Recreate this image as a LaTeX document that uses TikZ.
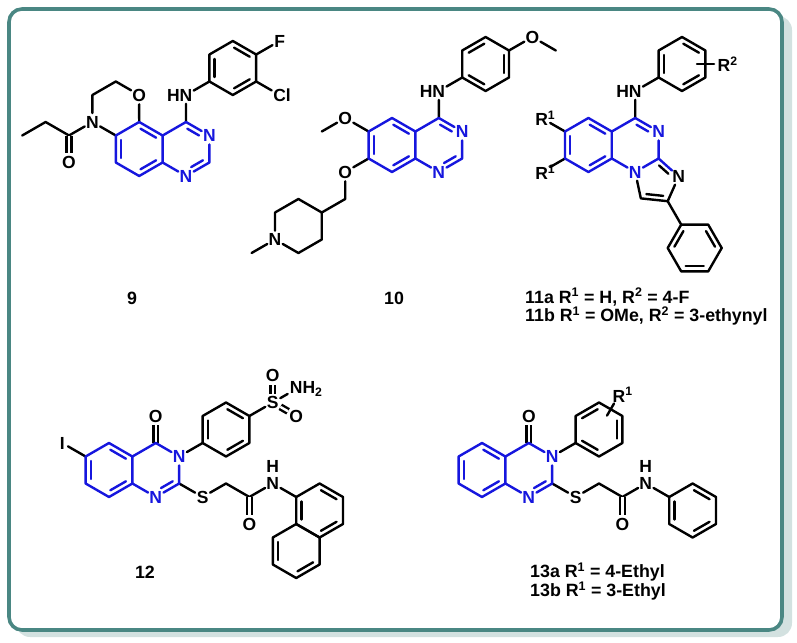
\documentclass[tikz,border=0pt]{standalone}
\usepackage{fontspec}
\setmainfont{Liberation Sans}
\usetikzlibrary{calc}

\definecolor{coreblue}{RGB}{22,22,222}
\definecolor{frameteal}{RGB}{74,135,131}
\definecolor{frameshade}{RGB}{211,225,224}

\tikzset{
  bond/.style={line width=2.4pt, line cap=round, line join=round},
  core/.style={bond, coreblue},
  dbl/.style={bond, double, double distance=2.4pt, line cap=butt},
  atom/.style={circle, inner sep=0pt, font=\fontsize{17.5}{17.5}\selectfont\bfseries},
  cpd/.style={font=\fontsize{17.8}{20}\selectfont\bfseries, inner sep=0pt},
}

% hexagon of side 27: (#1) is the centre, (#1v1)...(#1v6) the corners
\newcommand{\hexring}[3]{%
  \coordinate (#1) at (#2);
  \foreach \i in {1,...,6}
    \coordinate (#1v\i) at ($(#2)+({#3-60*(\i-1)}:27)$);
}
\newcommand{\ringbonds}[2][]{\draw[bond,#1] (#2v1)--(#2v2)--(#2v3)--(#2v4)--(#2v5)--(#2v6)--cycle;}
% inner line of a ring double bond
\newcommand{\inbond}[4][]{\draw[bond,shorten <=1.5pt,shorten >=1.5pt,#1] ($(#2)!0.22!(#4)$) -- ($(#3)!0.22!(#4)$);}

\begin{document}
\begin{tikzpicture}[x=1pt, y=1pt]
  \useasboundingbox (0,0) rectangle (797,-642);

  % frame
  \fill[frameshade, rounded corners=14pt] (16,-16) rectangle (792,-637);
  \draw[frameteal, fill=white, line width=3.6pt, rounded corners=13pt] (9,-9) rectangle (782,-630);

  % ---------- 9 ----------
  \hexring{A9}{139.2,-149}{90}
  \hexring{B9}{186,-149}{90}
  \hexring{C9}{115.8,-108.5}{90}
  \hexring{D9}{232.8,-68}{90}
  \node[atom, coreblue] (n9a) at (B9v2) {N};
  \node[atom, coreblue] (n9b) at (B9v4) {N};
  \node[atom] (o9a) at (C9v2) {O};
  \node[atom] (n9c) at (C9v5) {N};
  \node[atom] (n9d) at (186,-95) {\llap{H}N};
  \node[atom] (f9) at (279.6,-41) {F};
  \node[atom] (cl9) at (279.6,-95) {C\rlap{l}};
  \node[atom] (o9b) at (69,-162.5) {O};
  \coordinate (co9) at (69,-135.5);
  \coordinate (ch9) at (45.6,-122);
  \coordinate (me9) at (22.2,-135.5);

  \draw[bond] (A9v1) -- (o9a) -- (C9v1) -- (C9v6) -- (n9c) -- (A9v6);
  \draw[bond] (n9c) -- (co9) -- (ch9) -- (me9);
  \draw[dbl] (co9) -- (o9b);
  \draw[bond] (B9v1) -- (n9d) -- (D9v5);
  \ringbonds{D9}
  \inbond{D9v1}{D9v2}{D9}
  \inbond{D9v3}{D9v4}{D9}
  \inbond{D9v5}{D9v6}{D9}
  \draw[bond] (D9v2) -- (f9);
  \draw[bond] (D9v3) -- (cl9);
  \ringbonds[coreblue]{A9}
  \draw[core] (B9v6) -- (B9v1) -- (n9a) -- (B9v3) -- (n9b) -- (B9v5);
  \inbond[coreblue]{A9v1}{A9v2}{A9}
  \inbond[coreblue]{A9v3}{A9v4}{A9}
  \inbond[coreblue]{A9v5}{A9v6}{A9}
  \inbond[coreblue, shorten >=6pt]{B9v1}{n9a}{B9}
  \inbond[coreblue, shorten <=6pt]{n9b}{B9v3}{B9}
  \node[cpd] (l9) at (132,-298) {9};

  % ---------- 10 ----------
  \hexring{A10}{392,-145}{90}
  \hexring{B10}{438.8,-145}{90}
  \hexring{D10}{485.6,-64}{90}
  \hexring{P10}{298.4,-226}{90}
  \node[atom, coreblue] (n10a) at (B10v2) {N};
  \node[atom, coreblue] (n10b) at (B10v4) {N};
  \node[atom] (n10c) at (438.8,-91) {\llap{H}N};
  \node[atom] (o10a) at (532.4,-37) {O};
  \node[atom] (o10b) at (345.2,-118) {O};
  \node[atom] (o10c) at (345.2,-172) {O};
  \node[atom] (n10d) at (P10v5) {N};
  \coordinate (me10a) at (555.8,-50.5);
  \coordinate (me10b) at (321.8,-131.5);
  \coordinate (ch10) at (345.2,-199);
  \coordinate (me10c) at (251.6,-253);

  \draw[bond] (A10v6) -- (o10b) -- (me10b);
  \draw[bond] (A10v5) -- (o10c) -- (ch10) -- (P10v2);
  \draw[bond] (P10v6) -- (P10v1) -- (P10v2) -- (P10v3) -- (P10v4) -- (n10d) -- (P10v6);
  \draw[bond] (n10d) -- (me10c);
  \draw[bond] (B10v1) -- (n10c) -- (D10v5);
  \ringbonds{D10}
  \inbond{D10v2}{D10v3}{D10}
  \inbond{D10v4}{D10v5}{D10}
  \inbond{D10v6}{D10v1}{D10}
  \draw[bond] (D10v2) -- (o10a) -- (me10a);
  \ringbonds[coreblue]{A10}
  \draw[core] (B10v6) -- (B10v1) -- (n10a) -- (B10v3) -- (n10b) -- (B10v5);
  \inbond[coreblue]{A10v1}{A10v2}{A10}
  \inbond[coreblue]{A10v3}{A10v4}{A10}
  \inbond[coreblue]{A10v5}{A10v6}{A10}
  \inbond[coreblue, shorten >=6pt]{B10v1}{n10a}{B10}
  \inbond[coreblue, shorten <=6pt]{n10b}{B10v3}{B10}
  \node[cpd] (l10) at (394,-298) {10};

  % ---------- 11 ----------
  \hexring{A11}{588.4,-145}{90}
  \hexring{B11}{635.2,-145}{90}
  \hexring{D11}{682,-64}{90}
  \hexring{E11}{694.7,-248}{120}
  \coordinate (I11) at (656.2,-181.3);
  \foreach \i/\a in {3/12,4/-60,5/-132}
    \coordinate (I11v\i) at ($(I11)+(\a:22.97)$);
  \node[atom, coreblue] (n11a) at (B11v2) {N};
  \node[atom, coreblue] (n11b) at (B11v4) {N};
  \node[atom] (n11c) at (I11v3) {N};
  \node[atom] (n11d) at (635.2,-91) {\llap{H}N};
  \node[atom] (r11a) at (541.6,-118) {R\rlap{\textsuperscript{1}}};
  \node[atom] (r11b) at (541.6,-172) {R\rlap{\textsuperscript{1}}};
  \node[atom] (r11c) at (724,-64) {R\rlap{\textsuperscript{2}}};
  \coordinate (x11) at (697,-64);

  \draw[bond] (n11c) -- (I11v4) -- (I11v5) -- (n11b);
  \draw[bond, shorten <=1.5pt, shorten >=6pt] ($(B11v3)!0.26!(I11)$) -- ($(n11c)!0.26!(I11)$);
  \draw[bond, shorten <=1.5pt, shorten >=1.5pt] ($(I11v4)!0.26!(I11)$) -- ($(I11v5)!0.26!(I11)$);
  \draw[bond] (I11v4) -- (E11v1);
  \ringbonds{E11}
  \inbond{E11v2}{E11v3}{E11}
  \inbond{E11v4}{E11v5}{E11}
  \inbond{E11v6}{E11v1}{E11}
  \draw[bond] (A11v6) -- (r11a);
  \draw[bond] (A11v5) -- (r11b);
  \draw[bond] (B11v1) -- (n11d) -- (D11v5);
  \ringbonds{D11}
  \inbond{D11v1}{D11v2}{D11}
  \inbond{D11v3}{D11v4}{D11}
  \inbond{D11v5}{D11v6}{D11}
  \draw[bond] (x11) -- (r11c);
  \ringbonds[coreblue]{A11}
  \draw[core] (B11v6) -- (B11v1) -- (n11a) -- (B11v3) -- (n11b) -- (B11v5);
  \draw[core] (B11v3) -- (n11c);
  \inbond[coreblue]{A11v1}{A11v2}{A11}
  \inbond[coreblue]{A11v3}{A11v4}{A11}
  \inbond[coreblue]{A11v5}{A11v6}{A11}
  \inbond[coreblue, shorten >=6pt]{B11v1}{n11a}{B11}
  \node[cpd, anchor=west] (l11a) at (525,-297) {11a R\textsuperscript{1} = H, R\textsuperscript{2} = 4-F};
  \node[cpd, anchor=west] (l11b) at (525,-316) {11b R\textsuperscript{1} = OMe, R\textsuperscript{2} = 3-ethynyl};

  % ---------- 12 ----------
  \hexring{A12}{109,-470}{90}
  \hexring{B12}{155.8,-470}{90}
  \hexring{C12}{226,-429.5}{90}
  \hexring{N12}{319.6,-510.5}{90}
  \hexring{M12}{296.2,-551}{90}
  \node[atom, coreblue] (n12a) at (B12v2) {N};
  \node[atom, coreblue] (n12b) at (B12v4) {N};
  \node[atom] (o12a) at (155.8,-416) {O};
  \node[atom] (i12) at (62.2,-443) {I};
  \node[atom] (s12a) at (202.6,-497) {S};
  \node[atom] (o12b) at (249.4,-524) {O};
  \node[atom] (n12c) at (272.8,-483.5) {N};
  \node[atom] (h12) at (272.8,-466.5) {H};
  \node[atom] (s12b) at (272.8,-402.5) {S};
  \node[atom] (o12c) at (272.8,-375.5) {O};
  \node[atom] (o12d) at (296.2,-416) {O};
  \node[atom] (n12d) at (296.2,-389) {N\rlap{H\textsubscript{2}}};
  \coordinate (ch12) at (226,-483.5);
  \coordinate (co12) at (249.4,-497);

  \draw[dbl] (B12v1) -- (o12a);
  \draw[bond] (A12v6) -- (i12);
  \draw[bond] (n12a) -- (C12v5);
  \ringbonds{C12}
  \inbond{C12v1}{C12v2}{C12}
  \inbond{C12v3}{C12v4}{C12}
  \inbond{C12v5}{C12v6}{C12}
  \draw[bond] (C12v2) -- (s12b) -- (n12d);
  \draw[dbl] (s12b) -- (o12c);
  \draw[dbl] (s12b) -- (o12d);
  \draw[bond] (B12v3) -- (s12a) -- (ch12) -- (co12) -- (n12c) -- (N12v6);
  \draw[dbl] (co12) -- (o12b);
  \ringbonds{N12}
  \ringbonds{M12}
  \inbond{N12v1}{N12v2}{N12}
  \inbond{N12v3}{N12v4}{N12}
  \inbond{N12v5}{N12v6}{N12}
  \inbond{M12v3}{M12v4}{M12}
  \inbond{M12v5}{M12v6}{M12}
  \ringbonds[coreblue]{A12}
  \draw[core] (B12v6) -- (B12v1) -- (n12a) -- (B12v3) -- (n12b) -- (B12v5);
  \inbond[coreblue]{A12v1}{A12v2}{A12}
  \inbond[coreblue]{A12v3}{A12v4}{A12}
  \inbond[coreblue]{A12v5}{A12v6}{A12}
  \inbond[coreblue, shorten >=6pt]{B12v3}{n12b}{B12}
  \node[cpd] (l12) at (145,-572) {12};

  % ---------- 13 ----------
  \hexring{A13}{482,-470}{90}
  \hexring{B13}{528.8,-470}{90}
  \hexring{C13}{599,-429.5}{90}
  \hexring{E13}{692.6,-510.5}{90}
  \node[atom, coreblue] (n13a) at (B13v2) {N};
  \node[atom, coreblue] (n13b) at (B13v4) {N};
  \node[atom] (o13a) at (528.8,-416) {O};
  \node[atom] (s13) at (575.6,-497) {S};
  \node[atom] (o13b) at (622.4,-524) {O};
  \node[atom] (n13c) at (645.8,-483.5) {N};
  \node[atom] (h13) at (645.8,-466.5) {H};
  \node[atom] (r13) at (619,-394.9) {R\rlap{\textsuperscript{1}}};
  \coordinate (x13) at (607,-415.6);
  \coordinate (ch13) at (599,-483.5);
  \coordinate (co13) at (622.4,-497);

  \draw[dbl] (B13v1) -- (o13a);
  \draw[bond] (n13a) -- (C13v5);
  \ringbonds{C13}
  \inbond{C13v2}{C13v3}{C13}
  \inbond{C13v4}{C13v5}{C13}
  \inbond{C13v6}{C13v1}{C13}
  \draw[bond] (x13) -- (r13);
  \draw[bond] (B13v3) -- (s13) -- (ch13) -- (co13) -- (n13c) -- (E13v6);
  \draw[dbl] (co13) -- (o13b);
  \ringbonds{E13}
  \inbond{E13v1}{E13v2}{E13}
  \inbond{E13v3}{E13v4}{E13}
  \inbond{E13v5}{E13v6}{E13}
  \ringbonds[coreblue]{A13}
  \draw[core] (B13v6) -- (B13v1) -- (n13a) -- (B13v3) -- (n13b) -- (B13v5);
  \inbond[coreblue]{A13v1}{A13v2}{A13}
  \inbond[coreblue]{A13v3}{A13v4}{A13}
  \inbond[coreblue]{A13v5}{A13v6}{A13}
  \inbond[coreblue, shorten >=6pt]{B13v3}{n13b}{B13}
  \node[cpd, anchor=west] (l13a) at (530,-572) {13a R\textsuperscript{1} = 4-Ethyl};
  \node[cpd, anchor=west] (l13b) at (530,-591) {13b R\textsuperscript{1} = 3-Ethyl};
\end{tikzpicture}
\end{document}
